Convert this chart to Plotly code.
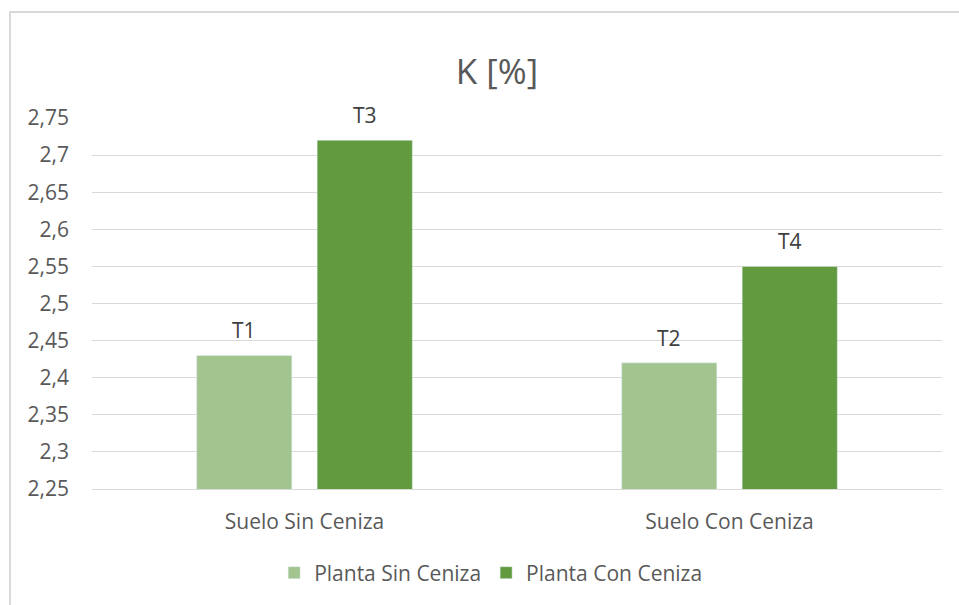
import plotly.graph_objects as go

categories = ["Suelo Sin Ceniza", "Suelo Con Ceniza"]
series_names = ["Planta Sin Ceniza", "Planta Con Ceniza"]
sin_ceniza = [2.43, 2.42]
con_ceniza = [2.72, 2.55]
labels_sin = ["T1", "T2"]
labels_con = ["T3", "T4"]
tick_vals = [2.25, 2.3, 2.35, 2.4, 2.45, 2.5, 2.55, 2.6, 2.65, 2.7, 2.75]
tick_text = ["2,25", "2,3", "2,35", "2,4", "2,45", "2,5", "2,55", "2,6", "2,65", "2,7", "2,75"]

font_fam = "Open Sans, Liberation Sans, sans-serif"
txt_col = "#595959"
colors = ["#A2C590", "#629B3F"]

fig = go.Figure()
fig.add_trace(go.Bar(x=categories, y=sin_ceniza, name=series_names[0], marker_color=colors[0]))
fig.add_trace(go.Bar(x=categories, y=con_ceniza, name=series_names[1], marker_color=colors[1]))

# data labels above bars (annotations anchored on the data values)
annotations = []
bar_offset_px = 60.25
label_gap_px = 25
for vals, labs, sign in [(sin_ceniza, labels_sin, -1), (con_ceniza, labels_con, 1)]:
    for cat, v, lab in zip(categories, vals, labs):
        annotations.append(dict(x=cat, y=v, xref="x", yref="y", text=lab, showarrow=False,
                                xshift=sign * bar_offset_px, yshift=label_gap_px,
                                yanchor="middle", xanchor="center",
                                font=dict(size=21, color="#404040", family=font_fam)))

fig.update_layout(
    width=959, height=605,
    margin=dict(l=92, r=17, t=118, b=116),
    paper_bgcolor="white", plot_bgcolor="white",
    barmode="group", bargap=0.433, bargroupgap=0.21,
    title=dict(text="K [%]", x=497 / 959, xanchor="center", y=1 - 72 / 605, yanchor="middle",
               font=dict(size=35, color=txt_col, family=font_fam)),
    font=dict(family=font_fam, color=txt_col, size=20),
    legend=dict(orientation="h", x=0.469, xanchor="center", y=-(573 - 489) / 371, yanchor="middle",
                font=dict(size=21, color=txt_col), itemwidth=30, traceorder="normal"),
    xaxis=dict(showgrid=False, showline=True, linecolor="#D9D9D9", linewidth=1,
               ticks="", ticklabelstandoff=14, tickfont=dict(size=21, color=txt_col)),
    yaxis=dict(range=[2.25, 2.75], tickvals=tick_vals, ticktext=tick_text,
               showgrid=True, gridcolor="#D9D9D9", gridwidth=1, zeroline=False,
               showline=False, ticks="", ticklabelstandoff=22,
               tickfont=dict(size=21, color=txt_col)),
    annotations=annotations,
    shapes=[dict(type="rect", xref="paper", yref="paper",
                 x0=-82 / 850, x1=1.2, y0=-1, y1=(605 - 12 - 116) / 371,
                 line=dict(color="#D9D9D9", width=2), fillcolor="rgba(0,0,0,0)", layer="below")],
)

fig.write_html("out.html")
